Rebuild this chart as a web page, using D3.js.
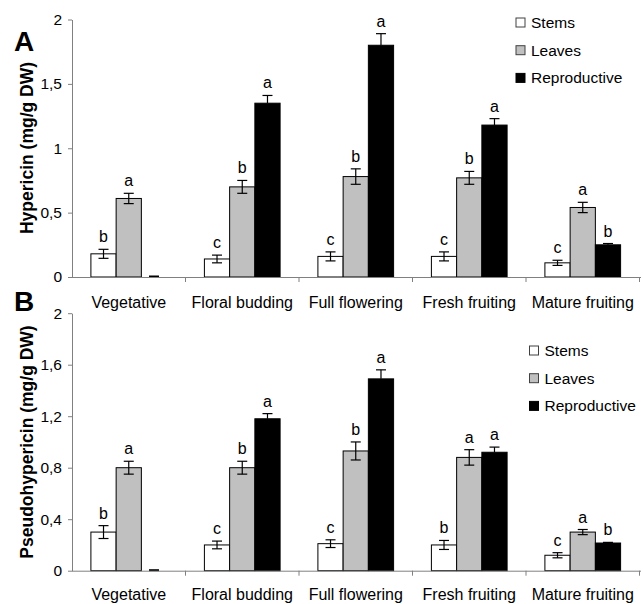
<!DOCTYPE html>
<html><head><meta charset="utf-8">
<script src="https://cdn.jsdelivr.net/npm/d3@7"></script>
<style>body{margin:0;background:#fff}svg{display:block}text{font-family:Arial,"Liberation Sans",sans-serif}</style>
</head><body><svg id="c" width="643" height="604"></svg>
<script>
const categories = ["Vegetative","Floral budding","Full flowering","Fresh fruiting","Mature fruiting"];
const series = ["Stems","Leaves","Reproductive"];
const colors = ["#ffffff","#c0c0c0","#000000"];

// Panel A: Hypericin
const hypStems = [0.18,0.14,0.16,0.16,0.11];
const hypStemsErr = [0.035,0.03,0.035,0.035,0.02];
const hypLeaves = [0.61,0.70,0.78,0.77,0.54];
const hypLeavesErr = [0.04,0.05,0.06,0.05,0.04];
const hypRepro = [0,1.35,1.80,1.18,0.25];
const hypReproErr = [0,0.06,0.09,0.05,0.01];
const hypLetters = [["b","a",""],["c","b","a"],["c","b","a"],["c","b","a"],["c","a","b"]];
const hypTicks = [0,0.5,1,1.5,2];

// Panel B: Pseudohypericin
const psStems = [0.30,0.20,0.21,0.20,0.12];
const psStemsErr = [0.05,0.03,0.03,0.035,0.02];
const psLeaves = [0.80,0.80,0.93,0.88,0.30];
const psLeavesErr = [0.05,0.05,0.07,0.06,0.02];
const psRepro = [0,1.18,1.49,0.92,0.215];
const psReproErr = [0,0.04,0.07,0.04,0.005];
const psLetters = [["b","a",""],["c","b","a"],["c","b","a"],["b","a","a"],["c","a","b"]];
const psTicks = [0,0.4,0.8,1.2,1.6,2];

const svg = d3.select("#c");
const fmt = d => String(d).replace(".", ",");
const FF = "Arial, 'Liberation Sans', sans-serif";

const x0 = d3.scaleBand().domain(categories).range([72, 639.5]).padding(0);
const x1 = d3.scaleBand().domain(series).range([18.9, x0.bandwidth()-18.9]).padding(0);

function panel(cfg){
  const y = d3.scaleLinear().domain([0,2]).range([cfg.y0, cfg.y0 - 257.5]);
  const g = svg.append("g");
  const vals = [cfg.stems, cfg.leaves, cfg.repro];
  const errs = [cfg.stemsErr, cfg.leavesErr, cfg.reproErr];
  // y axis
  const ya = g.append("g").attr("transform",`translate(72,0)`)
    .call(d3.axisLeft(y).tickValues(cfg.ticks).tickFormat(fmt).tickSize(4).tickSizeOuter(0));
  ya.select(".domain").attr("stroke","#808080");
  ya.selectAll(".tick line").attr("stroke","#808080");
  ya.selectAll(".tick text").attr("font-size",15.5).attr("fill","#000").attr("x",-10)
    .attr("font-family",FF);
  // bars
  categories.forEach((c,i)=>{
    series.forEach((s,j)=>{
      const v = vals[j][i], e = errs[j][i];
      const bx = x0(c)+x1(s), bw = x1.bandwidth(), cx = bx + bw/2;
      if (v > 0) {
        g.append("rect").attr("x",bx).attr("y",y(v)).attr("width",bw).attr("height",y(0)-y(v))
          .attr("fill",colors[j]).attr("stroke","#000").attr("stroke-width",1);
      }
      const eg = g.append("g").attr("stroke", "#000").attr("stroke-width",1.2);
      if (v > 0) {
        const lo = (j===2) ? v : v - e;
        eg.append("line").attr("x1",cx).attr("x2",cx).attr("y1",y(lo)).attr("y2",y(v+e));
        eg.append("line").attr("x1",cx-5).attr("x2",cx+5).attr("y1",y(v+e)).attr("y2",y(v+e));
        if (j!==2) eg.append("line").attr("x1",cx-5).attr("x2",cx+5).attr("y1",y(v-e)).attr("y2",y(v-e));
      } else {
        eg.append("line").attr("x1",cx-5).attr("x2",cx+5).attr("y1",y(0)-0.5).attr("y2",y(0)-0.5).attr("stroke-width",2);
      }
      const L = cfg.letters[i][j];
      if (L) g.append("text").attr("x",cx).attr("y",y(v+e)-7).attr("text-anchor","middle")
        .attr("font-size",16).text(L);
    });
  });
  // x axis
  const xa = g.append("g").attr("transform",`translate(0,${cfg.y0})`)
    .call(d3.axisBottom(x0).tickSize(0).tickSizeOuter(0));
  xa.select(".domain").attr("stroke","#808080").attr("d",`M72,0.5H641`);
  xa.selectAll(".tick text").attr("font-size",16).attr("fill","#000").attr("dy",0).attr("y",cfg.labOff)
    .attr("font-family",FF);
  g.selectAll(".sep").data(categories).enter().append("line")
    .attr("x1",(d,i)=>x0(d)+x0.bandwidth()).attr("x2",(d,i)=>x0(d)+x0.bandwidth())
    .attr("y1",cfg.y0).attr("y2",cfg.y0+5).attr("stroke","#808080");
  // y title
  g.append("text").attr("transform",`translate(33,${cfg.titleY}) rotate(-90)`).attr("text-anchor","middle")
    .attr("font-size",17.5).attr("font-weight","bold").text(cfg.title);
  // panel letter
  g.append("text").attr("x",14).attr("y",cfg.letterY).attr("font-size",28).attr("font-weight","bold").text(cfg.letter);
  // legend
  series.forEach((s,j)=>{
    const ly = cfg.legY + j*27.7;
    g.append("rect").attr("x",cfg.legX).attr("y",ly-4.5).attr("width",9).attr("height",9)
      .attr("fill",colors[j]).attr("stroke", j===2?"#000":"#404040").attr("stroke-width",1);
    g.append("text").attr("x",cfg.legX+15).attr("y",ly+5.5).attr("font-size",15.5).text(s);
  });
}

panel({y0:277, stems:hypStems, stemsErr:hypStemsErr, leaves:hypLeaves, leavesErr:hypLeavesErr,
  repro:hypRepro, reproErr:hypReproErr, letters:hypLetters, ticks:hypTicks, labOff:31,
  title:"Hypericin (mg/g DW)", titleY:148, letter:"A", letterY:50.5, legX:516, legY:22.5});
panel({y0:570.7, stems:psStems, stemsErr:psStemsErr, leaves:psLeaves, leavesErr:psLeavesErr,
  repro:psRepro, reproErr:psReproErr, letters:psLetters, ticks:psTicks, labOff:29.5,
  title:"Pseudohypericin (mg/g DW)", titleY:442, letter:"B", letterY:311, legX:529.5, legY:350.5});
</script></body></html>
